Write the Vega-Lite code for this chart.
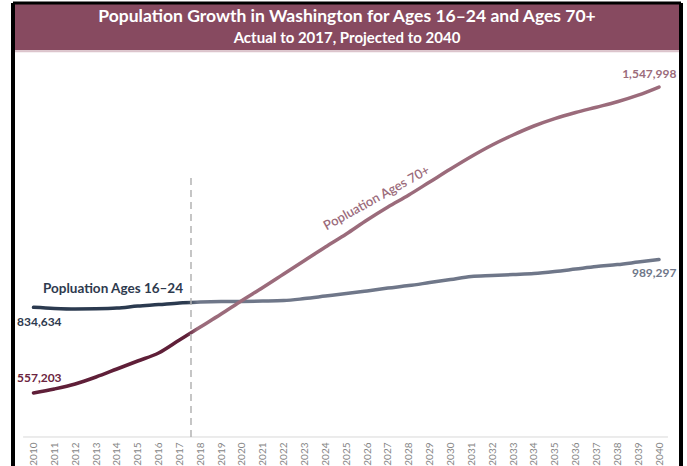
{
  "$schema": "https://vega.github.io/schema/vega-lite/v6.json",
  "width": 668,
  "height": 463,
  "autosize": "none",
  "padding": {"left": 13, "top": 3, "right": 6, "bottom": 0},
  "background": "white",
  "config": {"view": {"stroke": null}, "font": "Lato"},
  "resolve": {"axis": {"x": "independent", "y": "independent"}},
  "data": {
    "values": [
      {"year": 2010, "age1624": 834634, "age70": 557203},
      {"year": 2011, "age1624": 831237, "age70": 570286},
      {"year": 2012, "age1624": 829618, "age70": 586474},
      {"year": 2013, "age1624": 830100, "age70": 609138},
      {"year": 2014, "age1624": 832208, "age70": 635038},
      {"year": 2015, "age1624": 838683, "age70": 660939},
      {"year": 2016, "age1624": 843540, "age70": 686840},
      {"year": 2017, "age1624": 849044, "age70": 728929},
      {"year": 2018, "age1624": 851634, "age70": 771018},
      {"year": 2019, "age1624": 853253, "age70": 813106},
      {"year": 2020, "age1624": 853900, "age70": 856814},
      {"year": 2021, "age1624": 854871, "age70": 898903},
      {"year": 2022, "age1624": 856490, "age70": 942610},
      {"year": 2023, "age1624": 862965, "age70": 986318},
      {"year": 2024, "age1624": 871059, "age70": 1030026},
      {"year": 2025, "age1624": 879153, "age70": 1072114},
      {"year": 2026, "age1624": 887895, "age70": 1117441},
      {"year": 2027, "age1624": 896960, "age70": 1159530},
      {"year": 2028, "age1624": 905054, "age70": 1198381},
      {"year": 2029, "age1624": 914767, "age70": 1240470},
      {"year": 2030, "age1624": 924480, "age70": 1282558},
      {"year": 2031, "age1624": 934193, "age70": 1323028},
      {"year": 2032, "age1624": 937430, "age70": 1360261},
      {"year": 2033, "age1624": 940668, "age70": 1392637},
      {"year": 2034, "age1624": 943905, "age70": 1421775},
      {"year": 2035, "age1624": 950381, "age70": 1445676},
      {"year": 2036, "age1624": 958475, "age70": 1465483},
      {"year": 2037, "age1624": 966569, "age70": 1482671},
      {"year": 2038, "age1624": 973044, "age70": 1500240},
      {"year": 2039, "age1624": 981138, "age70": 1521522},
      {"year": 2040, "age1624": 989297, "age70": 1547998}
    ]
  },
  "layer": [
    {
      "data": {"values": [{}]},
      "mark": {"type": "rect", "color": "#874a60"},
      "encoding": {
        "y": {"datum": 1820000, "type": "quantitative", "scale": {"domain": [321000, 1820000], "nice": false, "zero": false}, "axis": null},
        "y2": {"datum": 1667000}
      }
    },
    {
      "data": {"values": [{}]},
      "mark": {"type": "rule", "color": "#dcc4cc", "strokeWidth": 2},
      "encoding": {"y": {"datum": 1664000, "type": "quantitative", "axis": null}}
    },
    {
      "mark": {
        "type": "line",
        "interpolate": "monotone",
        "strokeWidth": 3.5,
        "strokeCap": "round",
        "stroke": {
          "gradient": "linear", "x1": 0, "y1": 0, "x2": 1, "y2": 0,
          "stops": [
            {"offset": 0, "color": "#2b3a4f"},
            {"offset": 0.245, "color": "#2b3a4f"},
            {"offset": 0.262, "color": "#6f7789"},
            {"offset": 1, "color": "#6f7789"}
          ]
        }
      },
      "encoding": {
        "x": {
          "field": "year", "type": "quantitative",
          "scale": {"domain": [2009.017, 2041.055], "nice": false, "zero": false},
          "axis": {
            "values": [2010, 2011, 2012, 2013, 2014, 2015, 2016, 2017, 2018, 2019, 2020, 2021, 2022, 2023, 2024, 2025, 2026, 2027, 2028, 2029, 2030, 2031, 2032, 2033, 2034, 2035, 2036, 2037, 2038, 2039, 2040],
            "format": "d",
            "labelAngle": -90,
            "labelFont": "Lato",
            "labelFontSize": 10,
            "labelFontWeight": "normal",
            "labelColor": "#858585",
            "labelPadding": 5,
            "labelOverlap": false,
            "labelFlush": false,
            "ticks": false,
            "domain": false,
            "grid": false,
            "offset": -29,
            "title": null
          }
        },
        "y": {"field": "age1624", "type": "quantitative", "axis": null}
      }
    },
    {
      "mark": {
        "type": "line",
        "interpolate": "monotone",
        "strokeWidth": 3.5,
        "strokeCap": "round",
        "stroke": {
          "gradient": "linear", "x1": 0, "y1": 0, "x2": 1, "y2": 0,
          "stops": [
            {"offset": 0, "color": "#5f1f38"},
            {"offset": 0.245, "color": "#5f1f38"},
            {"offset": 0.262, "color": "#9b6b7b"},
            {"offset": 1, "color": "#9b6b7b"}
          ]
        }
      },
      "encoding": {
        "x": {"field": "year", "type": "quantitative", "axis": null},
        "y": {"field": "age70", "type": "quantitative", "axis": null}
      }
    },
    {
      "data": {"values": [{}]},
      "mark": {"type": "rule", "color": "#d9d9d9", "strokeWidth": 1},
      "encoding": {
        "x": {"datum": 2009.5, "type": "quantitative", "axis": null},
        "x2": {"datum": 2040.43},
        "y": {"datum": 414900, "type": "quantitative", "axis": null}
      }
    },
    {
      "data": {"values": [{}]},
      "mark": {"type": "rule", "color": "#b3b3b3", "strokeWidth": 1.5, "strokeDash": [7, 5]},
      "encoding": {
        "x": {"datum": 2017.554, "type": "quantitative", "axis": null},
        "y": {"datum": 1253400, "type": "quantitative", "axis": null},
        "y2": {"datum": 401900}
      }
    },
    {
      "transform": [{"filter": "datum.year == 2010"}],
      "mark": {"type": "text", "align": "left", "baseline": "middle", "dx": -16.5, "dy": -15, "fontSize": 12, "fontWeight": "bold", "color": "#6b2440"},
      "encoding": {
        "x": {"field": "year", "type": "quantitative", "axis": null},
        "y": {"field": "age70", "type": "quantitative", "axis": null},
        "text": {"field": "age70", "type": "quantitative", "format": ",d"}
      }
    },
    {
      "transform": [{"filter": "datum.year == 2010"}],
      "mark": {"type": "text", "align": "left", "baseline": "middle", "dx": -16.5, "dy": 14.5, "fontSize": 12, "fontWeight": "bold", "color": "#2e3a4e"},
      "encoding": {
        "x": {"field": "year", "type": "quantitative", "axis": null},
        "y": {"field": "age1624", "type": "quantitative", "axis": null},
        "text": {"field": "age1624", "type": "quantitative", "format": ",d"}
      }
    },
    {
      "transform": [{"filter": "datum.year == 2010"}],
      "mark": {"type": "text", "align": "left", "baseline": "middle", "dx": 9.5, "dy": -18.5, "fontSize": 13.5, "fontWeight": "bold", "color": "#2e3a4e", "text": "Popluation Ages 16–24"},
      "encoding": {
        "x": {"field": "year", "type": "quantitative", "axis": null},
        "y": {"field": "age1624", "type": "quantitative", "axis": null}
      }
    },
    {
      "transform": [{"filter": "datum.year == 2040"}],
      "mark": {"type": "text", "align": "right", "baseline": "middle", "dx": 17.5, "dy": -13, "fontSize": 12, "fontWeight": "bold", "color": "#9b6b7b"},
      "encoding": {
        "x": {"field": "year", "type": "quantitative", "axis": null},
        "y": {"field": "age70", "type": "quantitative", "axis": null},
        "text": {"field": "age70", "type": "quantitative", "format": ",d"}
      }
    },
    {
      "transform": [{"filter": "datum.year == 2040"}],
      "mark": {"type": "text", "align": "right", "baseline": "middle", "dx": 17.5, "dy": 13.5, "fontSize": 12, "fontWeight": "bold", "color": "#6f7789"},
      "encoding": {
        "x": {"field": "year", "type": "quantitative", "axis": null},
        "y": {"field": "age1624", "type": "quantitative", "axis": null},
        "text": {"field": "age1624", "type": "quantitative", "format": ",d"}
      }
    },
    {
      "transform": [{"filter": "datum.year == 2026"}],
      "mark": {"type": "text", "align": "center", "baseline": "middle", "angle": -29, "dx": 19, "dy": -14.5, "fontSize": 13, "fontWeight": 600, "color": "#9b6b7b", "text": "Popluation Ages 70+"},
      "encoding": {
        "x": {"field": "year", "type": "quantitative", "axis": null},
        "y": {"field": "age70", "type": "quantitative", "axis": null}
      }
    },
    {
      "data": {"values": [{"t": "Population Growth in Washington for Ages 16–24 and Ages 70+"}]},
      "mark": {"type": "text", "align": "center", "baseline": "middle", "fontSize": 17.5, "fontWeight": "bold", "color": "white"},
      "encoding": {
        "y": {"datum": 1774700, "type": "quantitative", "axis": null},
        "text": {"field": "t"}
      }
    },
    {
      "data": {"values": [{"t": "Actual to 2017, Projected to 2040"}]},
      "mark": {"type": "text", "align": "center", "baseline": "middle", "fontSize": 15, "fontWeight": "bold", "color": "white"},
      "encoding": {
        "y": {"datum": 1706700, "type": "quantitative", "axis": null},
        "text": {"field": "t"}
      }
    },
    {
      "data": {"values": [{}]},
      "mark": {"type": "rule", "color": "black", "strokeWidth": 4},
      "encoding": {"x": {"datum": 2009.017, "type": "quantitative", "axis": null}}
    },
    {
      "data": {"values": [{}]},
      "mark": {"type": "rule", "color": "black", "strokeWidth": 4},
      "encoding": {"x": {"datum": 2041.055, "type": "quantitative", "axis": null}}
    },
    {
      "data": {"values": [{}]},
      "mark": {"type": "rule", "color": "black", "strokeWidth": 3},
      "encoding": {"y": {"datum": 1820000, "type": "quantitative", "axis": null}}
    }
  ]
}
